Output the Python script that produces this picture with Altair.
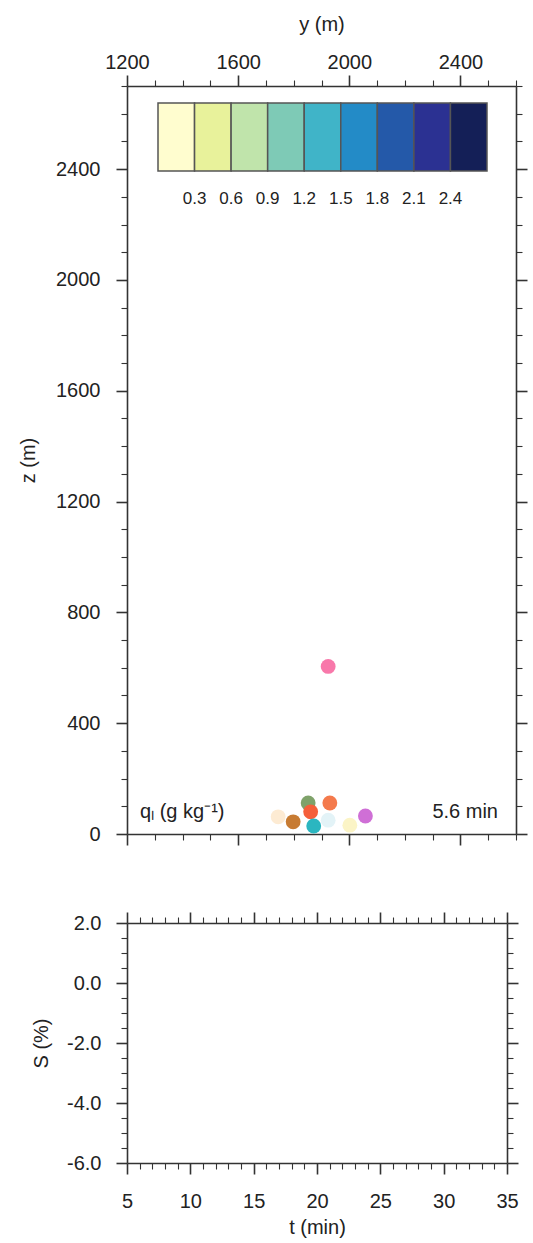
import altair as alt
import pandas as pd

# ---- particles (top panel) ----
particle_id = ["p01", "p02", "p03", "p04", "p05", "p06", "p07", "p08", "p09", "p10"]
particle_y = [1744, 1924, 2002, 1852, 1861, 1798, 1872, 1930, 2058, 1924]
particle_z = [62, 50, 32, 112, 80, 44, 29, 112, 65, 605]
particle_color = ["#fdebd3", "#e3f3f7", "#fbf4c6", "#7fa26a", "#f55f3a",
                  "#c77b32", "#2bb6c0", "#f47a4c", "#cf6fd6", "#f878aa"]

# ---- colour bar ----
ql_thresholds = [0.3, 0.6, 0.9, 1.2, 1.5, 1.8, 2.1, 2.4]
ql_colors = ["#fffdcf", "#e8f29b", "#c0e4ab", "#7ecab6", "#40b4c8",
             "#238bc7", "#2459a9", "#2b3192", "#141f57"]

# ---- axes ----
y_domain = [1200, 2600]
z_domain = [0, 2700]
y_ticks = list(range(1200, 2601, 100))
z_ticks = list(range(0, 2701, 100))
t_domain = [5, 35]
s_domain = [-6, 2]
t_ticks = list(range(5, 36))
s_ticks = [-6.0, -5.5, -5.0, -4.5, -4.0, -3.5, -3.0, -2.5, -2.0,
           -1.5, -1.0, -0.5, 0.0, 0.5, 1.0, 1.5, 2.0]

time_label = ["5.6 min"]
ql_label = ["q\u2097 (g kg\u207b\u00b9)"]

FONT = "Liberation Sans"
INK = "#333333"


def axis(orient, values, mod, labels=False, title=None, label_expr=None,
         label_padding=0, title_padding=0):
    test = f"datum.value % {mod} === 0"
    kw = dict(
        orient=orient, values=values, grid=False,
        tickSize={"condition": {"test": test, "value": 11}, "value": 6},
        tickWidth={"condition": {"test": test, "value": 1.6}, "value": 1.1},
        tickColor=INK, domainColor=INK, domainWidth=1.6,
        labels=labels, title=title,
    )
    if labels:
        kw.update(labelExpr=label_expr, labelPadding=label_padding,
                  labelFlush=False, labelOverlap=False,
                  labelFont=FONT, labelFontSize=20, labelColor="#222222")
    if title is not None:
        kw.update(titlePadding=title_padding, titleFont=FONT, titleFontSize=20,
                  titleFontWeight="normal", titleColor="#222222")
    return alt.Axis(**kw)


pdf = pd.DataFrame({"id": particle_id, "y": particle_y, "z": particle_z})
xs = alt.Scale(domain=y_domain, nice=False, zero=False)
zs = alt.Scale(domain=z_domain, nice=False, zero=False)

points = alt.Chart(pdf).mark_circle(size=220, opacity=1).encode(
    x=alt.X("y:Q", scale=xs,
            axis=axis("top", y_ticks, 400, True, "y (m)",
                      "datum.value % 400 === 0 ? format(datum.value, 'd') : ''",
                      3, 18)),
    y=alt.Y("z:Q", scale=zs,
            axis=axis("left", z_ticks, 400, True, "z (m)",
                      "datum.value % 400 === 0 ? format(datum.value, 'd') : ''",
                      16, 17)),
    fill=alt.Fill("id:N", scale=alt.Scale(domain=particle_id, range=particle_color),
                  legend=None),
)

frame_top = alt.Chart(pdf).mark_point(opacity=0).encode(
    x=alt.X("y:Q", scale=xs, axis=axis("bottom", y_ticks, 400)),
    y=alt.Y("z:Q", scale=zs, axis=axis("right", z_ticks, 400)),
)

legend_layer = alt.Chart(pd.DataFrame({"q": ql_thresholds})).mark_point(opacity=0).encode(
    color=alt.Color(
        "q:Q",
        scale=alt.Scale(type="threshold", domain=ql_thresholds, range=ql_colors),
        legend=alt.Legend(
            type="gradient", orient="none", legendX=31, legendY=17,
            direction="horizontal", gradientLength=329, gradientThickness=68,
            title=None, format=".1f", labelFont=FONT, labelFontSize=17,
            labelColor="#222222", labelOffset=20, gradientStrokeColor="#555555",
            gradientStrokeWidth=1.5, padding=0,
        ),
    )
)

txt_ql = alt.Chart(pd.DataFrame({"label": ql_label})).mark_text(
    align="left", baseline="middle", font=FONT, fontSize=20, color="#222222"
).encode(x=alt.value(13), y=alt.value(726), text="label:N")

txt_time = alt.Chart(pd.DataFrame({"label": time_label})).mark_text(
    align="right", baseline="middle", font=FONT, fontSize=20, color="#222222"
).encode(x=alt.value(371), y=alt.value(726), text="label:N")

top = alt.layer(points, frame_top, legend_layer, txt_ql, txt_time).resolve_axis(
    x="independent", y="independent"
).properties(width=389, height=748)

bdf = pd.DataFrame({"t": t_domain, "S": s_domain})
ts_ = alt.Scale(domain=t_domain, nice=False, zero=False)
ss_ = alt.Scale(domain=s_domain, nice=False, zero=False)
s_expr = "datum.value % 2 === 0 ? replace(format(datum.value, '.1f'), '\u2212', '-') : ''"

b_main = alt.Chart(bdf).mark_point(opacity=0).encode(
    x=alt.X("t:Q", scale=ts_,
            axis=axis("bottom", t_ticks, 5, True, "t (min)",
                      "datum.value % 5 === 0 ? format(datum.value, 'd') : ''",
                      17, 6)),
    y=alt.Y("S:Q", scale=ss_,
            axis=axis("left", s_ticks, 2, True, "S (%)", s_expr, 15, 15)),
)
b_frame = alt.Chart(bdf).mark_point(opacity=0).encode(
    x=alt.X("t:Q", scale=ts_, axis=axis("top", t_ticks, 5)),
    y=alt.Y("S:Q", scale=ss_, axis=axis("right", s_ticks, 2)),
)
bottom = alt.layer(b_main, b_frame).resolve_axis(
    x="independent", y="independent"
).properties(width=380, height=240)

chart = alt.vconcat(top, bottom, spacing=89, bounds="flush").properties(
    padding={"left": 127, "top": 86, "right": 406, "bottom": 1157},
    autosize=alt.AutoSizeParams(type="none"),
    background="white",
).configure_view(strokeWidth=0)

chart.save("out.html", embed_options={"renderer": "svg", "actions": False})
